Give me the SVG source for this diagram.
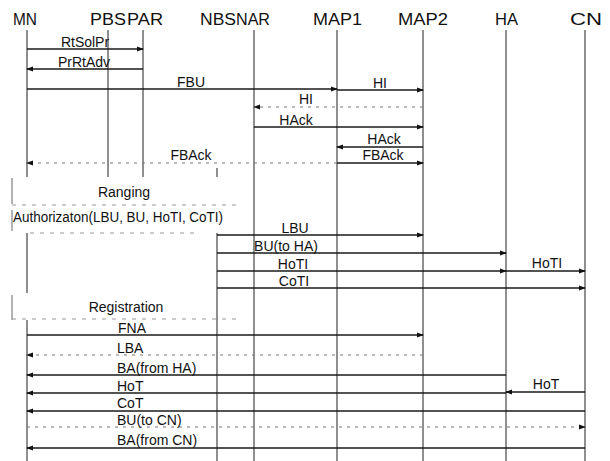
<svg xmlns="http://www.w3.org/2000/svg" width="610" height="461" viewBox="0 0 610 461">
<defs>
<marker id="ah" markerUnits="userSpaceOnUse" markerWidth="7" markerHeight="6" refX="6" refY="3" orient="auto">
<path d="M0,0.5 L7,3 L0,5.5 z" fill="#111"/>
</marker>
</defs>
<style>
.hd{font-family:"Liberation Sans",Arial,sans-serif;font-size:16px;fill:#111}
.lb{font-family:"Liberation Sans",Arial,sans-serif;font-size:14px;fill:#111}
.ll{stroke:#333;stroke-width:1.1;fill:none}
.m{stroke:#1a1a1a;stroke-width:1.5;fill:none;marker-end:url(#ah)}
.d{stroke:#777;stroke-width:1;stroke-dasharray:3 5;fill:none;marker-end:url(#ah)}
.bx{stroke:#999;stroke-width:1;stroke-dasharray:4 6;fill:none}
.br{stroke:#666;stroke-width:1;fill:none}
</style>
<rect width="610" height="461" fill="#fff"/>

<g id="MN">
<text class="hd" x="13" y="25" textLength="24" lengthAdjust="spacingAndGlyphs">MN</text>
<path class="ll" d="M27,30 V177 M27,233 V293 M27,320 V461"/>
</g>
<g id="PBS">
<text class="hd" x="90" y="25" textLength="36" lengthAdjust="spacingAndGlyphs">PBS</text>
<path class="ll" d="M108,30 V177"/>
</g>
<g id="PAR">
<text class="hd" x="127" y="25" textLength="36" lengthAdjust="spacingAndGlyphs">PAR</text>
<path class="ll" d="M143,30 V177"/>
</g>
<g id="NBS">
<text class="hd" x="200" y="25" textLength="36" lengthAdjust="spacingAndGlyphs">NBS</text>
<path class="ll" d="M217,168 V177 M217,233 V461"/>
</g>
<g id="NAR">
<text class="hd" x="236" y="25" textLength="34" lengthAdjust="spacingAndGlyphs">NAR</text>
<path class="ll" d="M254,30 V461"/>
</g>
<g id="MAP1">
<text class="hd" x="313" y="25" textLength="49" lengthAdjust="spacingAndGlyphs">MAP1</text>
<path class="ll" d="M337,30 V461"/>
</g>
<g id="MAP2">
<text class="hd" x="398" y="25" textLength="50" lengthAdjust="spacingAndGlyphs">MAP2</text>
<path class="ll" d="M423,30 V461"/>
</g>
<g id="HA">
<text class="hd" x="495" y="25" textLength="23" lengthAdjust="spacingAndGlyphs">HA</text>
<path class="ll" d="M506,30 V461"/>
</g>
<g id="CN">
<text class="hd" x="570" y="25" textLength="32" lengthAdjust="spacingAndGlyphs">CN</text>
<path class="ll" d="M585,30 V461"/>
</g>

<g id="boxes">
<path class="br" d="M12,178 V204 M12,210 V231 M12,295 V320"/>
<path class="bx" d="M12,205 H240 M30,233 H200 M12,319 H240"/>
<text class="lb" x="124" y="197" text-anchor="middle">Ranging</text>
<text class="lb" x="13" y="222" textLength="210" lengthAdjust="spacingAndGlyphs">Authorizaton(LBU, BU, HoTI, CoTI)</text>
<text class="lb" x="126" y="312" text-anchor="middle">Registration</text>
</g>

<g id="connectors">
<line class="m" x1="27" y1="49" x2="143" y2="49"/>
<line class="m" x1="143" y1="69" x2="27" y2="69"/>
<line class="m" x1="27" y1="89" x2="337" y2="89"/>
<line class="m" x1="337" y1="90" x2="423" y2="90"/>
<line class="d" x1="423" y1="107" x2="254" y2="107"/>
<line class="m" x1="254" y1="127" x2="423" y2="127"/>
<line class="m" x1="423" y1="147" x2="337" y2="147"/>
<line class="m" x1="337" y1="163" x2="423" y2="163"/>
<line class="d" x1="337" y1="163" x2="27" y2="163"/>
<line class="m" x1="217" y1="235" x2="423" y2="235"/>
<line class="m" x1="217" y1="253" x2="506" y2="253"/>
<line class="m" x1="217" y1="271" x2="506" y2="271"/>
<line class="m" x1="506" y1="271" x2="585" y2="271"/>
<line class="m" x1="217" y1="288" x2="585" y2="288"/>
<line class="m" x1="27" y1="335" x2="423" y2="335"/>
<line class="d" x1="423" y1="355" x2="27" y2="355"/>
<line class="m" x1="506" y1="375" x2="27" y2="375"/>
<line class="m" x1="585" y1="392" x2="506" y2="392"/>
<line class="m" x1="506" y1="393" x2="27" y2="393"/>
<line class="m" x1="585" y1="411" x2="27" y2="411"/>
<line class="d" x1="27" y1="427" x2="585" y2="427"/>
<line class="m" x1="585" y1="448" x2="27" y2="448"/>

<text class="lb" x="85" y="47" text-anchor="middle">RtSolPr</text>
<text class="lb" x="84" y="67" text-anchor="middle">PrRtAdv</text>
<text class="lb" x="191" y="87" text-anchor="middle">FBU</text>
<text class="lb" x="380" y="88" text-anchor="middle">HI</text>
<text class="lb" x="306" y="104" text-anchor="middle">HI</text>
<text class="lb" x="296" y="125" text-anchor="middle">HAck</text>
<text class="lb" x="384" y="144" text-anchor="middle">HAck</text>
<text class="lb" x="383" y="160" text-anchor="middle">FBAck</text>
<text class="lb" x="191" y="160" text-anchor="middle">FBAck</text>
<text class="lb" x="295" y="233" text-anchor="middle">LBU</text>
<text class="lb" x="286" y="251" text-anchor="middle">BU(to HA)</text>
<text class="lb" x="293" y="269" text-anchor="middle">HoTI</text>
<text class="lb" x="547" y="268" text-anchor="middle">HoTI</text>
<text class="lb" x="294" y="286" text-anchor="middle">CoTI</text>
<text class="lb" x="118" y="333">FNA</text>
<text class="lb" x="117" y="353">LBA</text>
<text class="lb" x="117" y="373">BA(from HA)</text>
<text class="lb" x="117" y="391">HoT</text>
<text class="lb" x="546" y="389" text-anchor="middle">HoT</text>
<text class="lb" x="117" y="408">CoT</text>
<text class="lb" x="117" y="425">BU(to CN)</text>
<text class="lb" x="117" y="445">BA(from CN)</text>
</g>
</svg>
